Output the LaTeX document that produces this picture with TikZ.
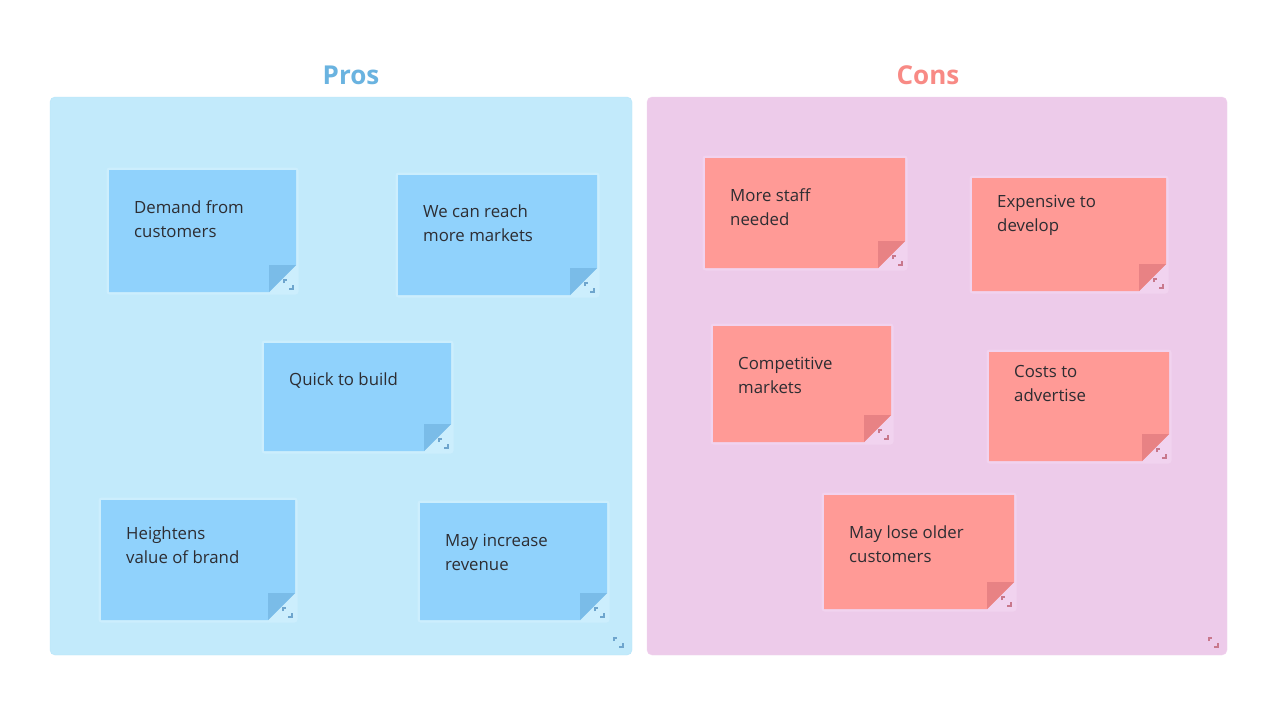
\documentclass[tikz,border=0pt]{standalone}
\usepackage{fontspec}
\setmainfont{Open Sans}
\definecolor{probg}{RGB}{194,234,251}
\definecolor{proborder}{RGB}{184,229,250}
\definecolor{conbg}{RGB}{237,203,234}
\definecolor{conborder}{RGB}{242,212,240}
\definecolor{pronote}{RGB}{144,210,252}
\definecolor{proflap}{RGB}{122,188,232}
\definecolor{prohalo}{RGB}{204,238,253}
\definecolor{proicon}{RGB}{110,165,205}
\definecolor{connote}{RGB}{255,154,150}
\definecolor{conflap}{RGB}{232,130,132}
\definecolor{conhalo}{RGB}{241,211,239}
\definecolor{conicon}{RGB}{200,120,140}
\definecolor{protitle}{RGB}{106,179,224}
\definecolor{contitle}{RGB}{248,138,133}
\definecolor{txt}{RGB}{45,45,50}
\tikzset{
  notetext/.style={anchor=north west, inner sep=0pt, text=txt, font=\fontsize{16.8}{24}\selectfont, align=left},
  titletext/.style={font=\fontsize{26}{30}\selectfont\bfseries},
  icon/.style={line width=2pt}
}
% \sticky{l}{t}{r}{b}{notecolor}{flapcolor}{halocolor}{iconcolor}
\newcommand\sticky[8]{%
  \fill[#7, rounded corners=3pt] (#1-2.5,#2-2.5) rectangle (#3+2.5,#4+2.5);
  \fill[#5] (#1,#2) -- (#3,#2) -- (#3,#4-27) -- (#3-27,#4) -- (#1,#4) -- cycle;
  \fill[#6] (#3-27,#4-27) -- (#3,#4-27) -- (#3-27,#4) -- cycle;
  \drawicon{#3-8}{#4-8}{#8}
}
\newcommand\drawicon[3]{%
  \draw[icon, draw=#3] (#1-4.5,#2-1) -- (#1-4.5,#2-4.5) -- (#1-1,#2-4.5);
  \draw[icon, draw=#3] (#1+1,#2+4.5) -- (#1+4.5,#2+4.5) -- (#1+4.5,#2+1);
}
\begin{document}
\begin{tikzpicture}[x=1pt,y=-1pt]
\useasboundingbox[fill=white] (0,0) rectangle (1280,720);
% panels
\draw[fill=probg, draw=proborder, rounded corners=5pt] (50,97) rectangle (632,655);
\draw[fill=conbg, draw=conborder, rounded corners=5pt] (647,97) rectangle (1227,655);
\drawicon{618}{642}{proicon}
\drawicon{1213}{642}{conicon}
\node[titletext, text=protitle] (pros) at (351,75) {Pros};
\node[titletext, text=contitle] (cons) at (928,75) {Cons};
% pros notes
\sticky{109}{170}{296}{292}{pronote}{proflap}{prohalo}{proicon}
\node[notetext] (p1) at (134,200.5) {Demand from\\customers};
\sticky{398}{175}{597}{295}{pronote}{proflap}{prohalo}{proicon}
\node[notetext] (p2) at (423,204.5) {We can reach\\more markets};
\sticky{264}{343}{451}{451}{pronote}{proflap}{prohalo}{proicon}
\node[notetext] (p3) at (289,372.5) {Quick to build};
\sticky{101}{500}{295}{620}{pronote}{proflap}{prohalo}{proicon}
\node[notetext] (p4) at (126,526.5) {Heightens\\value of brand};
\sticky{420}{503}{607}{620}{pronote}{proflap}{prohalo}{proicon}
\node[notetext] (p5) at (445,533.5) {May increase\\revenue};
% cons notes
\sticky{705}{158}{905}{268}{connote}{conflap}{conhalo}{conicon}
\node[notetext] (c1) at (730,188.5) {More staff\\needed};
\sticky{972}{178}{1166}{291}{connote}{conflap}{conhalo}{conicon}
\node[notetext] (c2) at (997,194.5) {Expensive to\\develop};
\sticky{713}{326}{891}{442}{connote}{conflap}{conhalo}{conicon}
\node[notetext] (c3) at (738,356.5) {Competitive\\markets};
\sticky{989}{352}{1169}{461}{connote}{conflap}{conhalo}{conicon}
\node[notetext] (c4) at (1014,365.5) {Costs to\\advertise};
\sticky{824}{495}{1014}{609}{connote}{conflap}{conhalo}{conicon}
\node[notetext] (c5) at (849,525.5) {May lose older\\customers};
\end{tikzpicture}
\end{document}
